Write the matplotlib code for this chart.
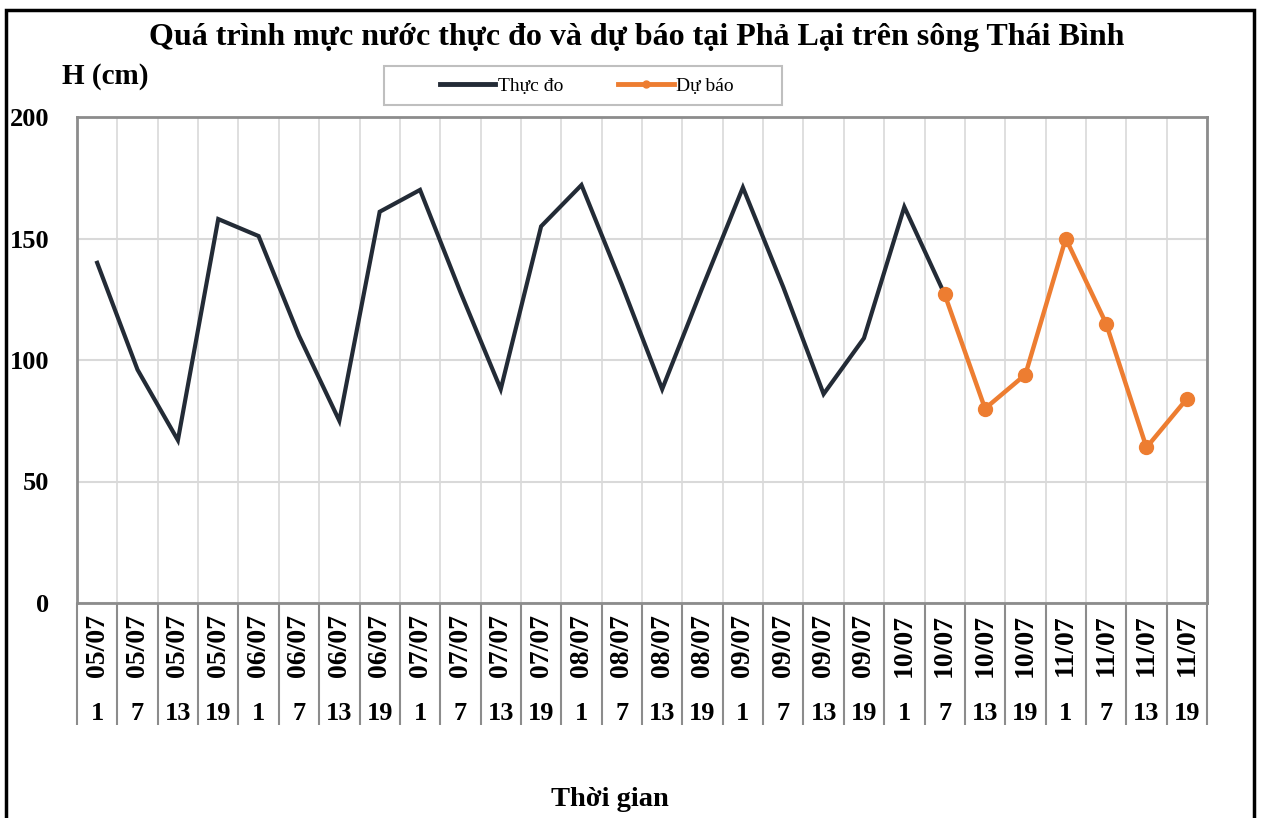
import matplotlib
matplotlib.use("Agg")
import matplotlib.pyplot as plt
import matplotlib.transforms as mtransforms
from matplotlib.patches import Rectangle
from matplotlib.lines import Line2D
import numpy as np

# ---- data ----
dates = ["05/07"] * 4 + ["06/07"] * 4 + ["07/07"] * 4 + ["08/07"] * 4 + \
        ["09/07"] * 4 + ["10/07"] * 4 + ["11/07"] * 4
hours = ["1", "7", "13", "19"] * 7
observed = [140, 96, 67, 158, 151, 110, 75, 161, 170, 128, 88, 155, 172, 131,
            88, 130, 171, 130, 86, 109, 163, 127]
forecast_start = 21
forecast = [127, 80, 94, 150, 115, 64, 84]
y_ticks = [0, 50, 100, 150, 200]

title = "Quá trình mực nước thực đo và dự báo tại Phả Lại trên sông Thái Bình"
ylabel = "H (cm)"
xlabel = "Thời gian"

# ---- style ----
W, H = 1265, 818
DPI = 100
serif = ["Liberation Serif", "DejaVu Serif"]
plt.rcParams["font.family"] = serif

fig = plt.figure(figsize=(W / DPI, H / DPI), dpi=DPI)
fig.patch.set_facecolor("white")

left, right, top, bottom = 77, 1207, 117, 603
ax = fig.add_axes([left / W, 1 - bottom / H, (right - left) / W, (bottom - top) / H])

n = len(dates)
x = np.arange(n)
ax.plot(x[:len(observed)], observed, color="#232B36", lw=3.0, solid_joinstyle="miter", zorder=3)
xf = np.arange(forecast_start, forecast_start + len(forecast))
ax.plot(xf, forecast, color="#ED7D31", lw=3.2, marker="o", ms=10, zorder=4)

ax.set_xlim(-0.5, n - 0.5)
ax.set_ylim(0, 200)
ax.set_yticks(y_ticks)
ax.set_yticklabels([str(v) for v in y_ticks], fontsize=19, fontweight="bold")
ax.tick_params(axis="y", length=0, pad=20)

ax.set_xticks([])
ax.set_xticks(np.arange(-0.5, n, 1), minor=True)
ax.tick_params(axis="x", which="minor", direction="out", length=88, width=1.5,
               color="#8c8c8c", labelbottom=False)
ax.grid(axis="x", which="minor", color="#d9d9d9", lw=1.2)
ax.grid(axis="y", which="major", color="#d9d9d9", lw=1.5)
ax.set_axisbelow(True)
for s in ax.spines.values():
    s.set_color("#8c8c8c")
    s.set_linewidth(2.0)

trans = mtransforms.blended_transform_factory(ax.transData, ax.transAxes)
ph = bottom - top
for i in range(n):
    ax.text(i, -(614 - bottom) / ph, dates[i], rotation=90, ha="center", va="top",
            fontsize=20, fontweight="bold", transform=trans)
    ax.text(i, -(714 - bottom) / ph, hours[i], ha="center", va="center",
            fontsize=19, fontweight="bold", transform=trans)

fig.text(637 / W, 1 - 38 / H, title, ha="center", va="center", fontsize=23, fontweight="bold")
fig.text(62 / W, 1 - 76 / H, ylabel, ha="left", va="center", fontsize=21, fontweight="bold")
fig.text(610 / W, 1 - 800 / H, xlabel, ha="center", va="center", fontsize=20.5, fontweight="bold")

# legend box
fig.patches.append(Rectangle((384 / W, 1 - 105 / H), 398 / W, 39 / H,
                             transform=fig.transFigure, facecolor="white",
                             edgecolor="#bfbfbf", lw=1.5, zorder=9))
handles = [Line2D([], [], color="#232B36", lw=3.5),
           Line2D([], [], color="#ED7D31", lw=3.5, marker="o", ms=5)]
leg = fig.legend(handles, ["Thực đo", "Dự báo"], ncol=2, loc="center",
                 bbox_to_anchor=(587 / W, 1 - 86 / H), frameon=False,
                 fontsize=14, handlelength=2.85, handletextpad=0.15,
                 columnspacing=2.8, borderpad=0.0)
leg.set_zorder(10)

fig.patches.append(Rectangle((6 / W, -0.02), 1248 / W, (H - 10) / H + 0.02,
                             transform=fig.transFigure, fill=False, edgecolor="black",
                             lw=2.5))

fig.savefig("out.png", dpi=DPI)
